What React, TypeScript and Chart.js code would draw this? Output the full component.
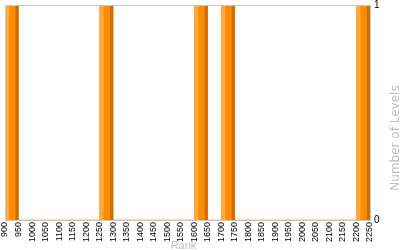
import React, { useEffect, useRef } from "react";
import { Chart, registerables } from "chart.js";

Chart.register(...registerables);

// Rank bins (start of each 50-wide bin)
const rankBins = [
  900, 950, 1000, 1050, 1100, 1150, 1200, 1250, 1300, 1350, 1400, 1450, 1500, 1550,
  1600, 1650, 1700, 1750, 1800, 1850, 1900, 1950, 2000, 2050, 2100, 2150, 2200,
];
// Number of levels in each bin
const levelCounts = [
  1, 0, 0, 0, 0, 0, 0, 1, 0, 0, 0, 0, 0, 0,
  1, 0, 1, 0, 0, 0, 0, 0, 0, 0, 0, 0, 1,
];
const binWidth = 50;
const xMin = 900;
const xMax = 2250;
const yTickValues = [0, 1];
const xTitle = "Rank";
const yTitle = "Number of Levels";

const MAIN = "#ff8c00";
const LIGHT = "#ffa940";
const DARK = "#c86e0a";
const FRAME = "#c8c8c8";
const TITLE_GREY = "#c0c0c0";

const bevelPlugin = {
  id: "bevel",
  afterDatasetsDraw(chart: any) {
    const ctx = chart.ctx;
    const meta = chart.getDatasetMeta(0);
    ctx.save();
    meta.data.forEach((el: any) => {
      const p = el.getProps(["x", "y", "base", "width"], true);
      const h = p.base - p.y;
      if (h <= 0.5) return;
      const left = p.x - p.width / 2;
      ctx.fillStyle = LIGHT;
      ctx.fillRect(left, p.y, p.width * 0.3, h);
      ctx.fillStyle = DARK;
      ctx.fillRect(left + p.width * 0.77, p.y, p.width * 0.23, h);
    });
    ctx.restore();
  },
};

const framePlugin = {
  id: "frame",
  afterDraw(chart: any) {
    const { ctx, chartArea: a } = chart;
    ctx.save();
    ctx.strokeStyle = FRAME;
    ctx.lineWidth = 1;
    ctx.strokeRect(Math.round(a.left) + 0.5, Math.round(a.top) + 0.5, Math.round(a.right - a.left), Math.round(a.bottom - a.top));
    ctx.fillStyle = TITLE_GREY;
    ctx.font = "12px 'DejaVu Sans'";
    ctx.textAlign = "center";
    ctx.textBaseline = "middle";
    ctx.translate(396, 138);
    ctx.rotate(-Math.PI / 2);
    ctx.fillText(yTitle, 0, 0);
    ctx.restore();
    ctx.save();
    ctx.fillStyle = TITLE_GREY;
    ctx.font = "11px 'Liberation Sans'";
    ctx.textAlign = "center";
    ctx.textBaseline = "top";
    ctx.fillText(xTitle, (a.left + a.right) / 2 - 4, 240);
    ctx.restore();
  },
};

export default function App() {
  const ref = useRef<HTMLCanvasElement>(null);
  useEffect(() => {
    document.body.style.margin = "0";
    const chart = new Chart(ref.current!, {
      type: "bar",
      data: {
        datasets: [
          {
            data: rankBins.map((b, i) => ({ x: b + binWidth / 2, y: levelCounts[i] })),
            backgroundColor: MAIN,
            borderWidth: 0,
            barPercentage: 1,
            categoryPercentage: 1,
          },
        ],
      },
      options: {
        animation: false,
        responsive: false,
        maintainAspectRatio: false,
        layout: { padding: { top: 5, left: 5, right: 20, bottom: 2 } },
        plugins: { legend: { display: false }, tooltip: { enabled: false } },
        scales: {
          x: {
            type: "linear",
            min: xMin,
            max: xMax,
            offset: false,
            grid: { display: false, drawTicks: false },
            border: { display: false },
            afterFit: (axis: any) => {
              axis.paddingLeft = 0;
              axis.paddingRight = 0;
              axis.height = 28;
            },
            ticks: {
              stepSize: 50,
              autoSkip: false,
              maxRotation: 90,
              minRotation: 90,
              padding: 2,
              color: "#000",
              font: { family: "'Liberation Sans'", size: 9 },
              callback: (v: any) => String(v),
            },
          },
          y: {
            position: "right",
            min: 0,
            max: 1,
            grid: { display: false, drawTicks: false },
            border: { display: false },
            afterBuildTicks: (axis: any) => {
              axis.ticks = yTickValues.map((v) => ({ value: v }));
            },
            afterFit: (axis: any) => {
              axis.paddingTop = 0;
              axis.paddingBottom = 0;
              axis.width = 10;
            },
            ticks: {
              padding: 4,
              color: "#000",
              font: { family: "'Liberation Sans'", size: 10 },
              callback: (v: any) => String(v),
            },
          },
        },
      },
      plugins: [bevelPlugin, framePlugin],
    });
    return () => chart.destroy();
  }, []);
  return (
    <div style={{ width: 400, height: 250, background: "#fff" }}>
      <canvas ref={ref} width={400} height={250} />
    </div>
  );
}
